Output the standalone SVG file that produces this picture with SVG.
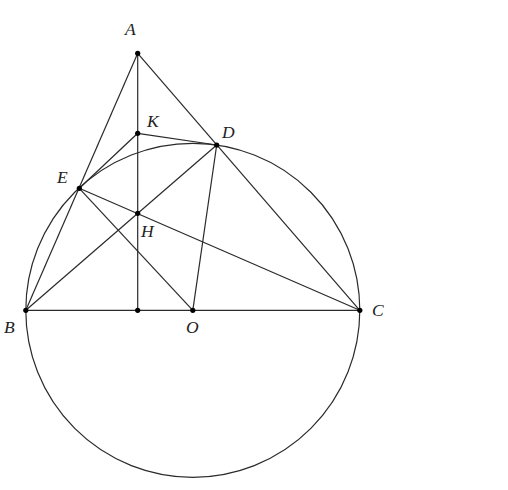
<svg xmlns="http://www.w3.org/2000/svg" width="508" height="490" viewBox="0 0 508 490">
<style>
.ln{stroke:#2a2a2a;stroke-width:1.2;fill:none}
.pt{fill:#000}
.lb{font-family:"Liberation Serif","DejaVu Serif",serif;font-style:italic;font-size:17.5px;fill:#222}
</style>
<rect width="508" height="490" fill="#fff"/>
<g id="connectors">
<circle class="ln" cx="192.8" cy="310.3" r="167"/>
<line class="ln" x1="137.7" y1="53.3" x2="25.8" y2="310.3"/>
<line class="ln" x1="137.7" y1="53.3" x2="359.8" y2="310.3"/>
<line class="ln" x1="137.7" y1="53.3" x2="137.7" y2="310.3"/>
<line class="ln" x1="25.8" y1="310.3" x2="359.8" y2="310.3"/>
<line class="ln" x1="25.8" y1="310.3" x2="216.7" y2="145"/>
<line class="ln" x1="79.3" y1="188.3" x2="359.8" y2="310.3"/>
<line class="ln" x1="79.3" y1="188.3" x2="192.8" y2="310.3"/>
<line class="ln" x1="216.7" y1="145" x2="192.8" y2="310.3"/>
<line class="ln" x1="137.7" y1="133.3" x2="79.3" y2="188.3"/>
<line class="ln" x1="137.7" y1="133.3" x2="216.7" y2="145"/>
</g>
<g id="A"><circle class="pt" cx="137.7" cy="53.3" r="2.6"/><text class="lb" x="125" y="35">A</text></g>
<g id="K"><circle class="pt" cx="137.7" cy="133.3" r="2.6"/><text class="lb" x="147" y="127">K</text></g>
<g id="D"><circle class="pt" cx="216.7" cy="145" r="2.6"/><text class="lb" x="222" y="138">D</text></g>
<g id="E"><circle class="pt" cx="79.3" cy="188.3" r="2.6"/><text class="lb" x="57" y="183">E</text></g>
<g id="H"><circle class="pt" cx="137.7" cy="213.3" r="2.6"/><text class="lb" x="141" y="237">H</text></g>
<g id="F"><circle class="pt" cx="137.7" cy="310.3" r="2.6"/></g>
<g id="B"><circle class="pt" cx="25.8" cy="310.3" r="2.6"/><text class="lb" x="4" y="333">B</text></g>
<g id="O"><circle class="pt" cx="192.8" cy="310.3" r="2.6"/><text class="lb" x="186" y="333">O</text></g>
<g id="C"><circle class="pt" cx="359.8" cy="310.3" r="2.6"/><text class="lb" x="372" y="316">C</text></g>
</svg>
